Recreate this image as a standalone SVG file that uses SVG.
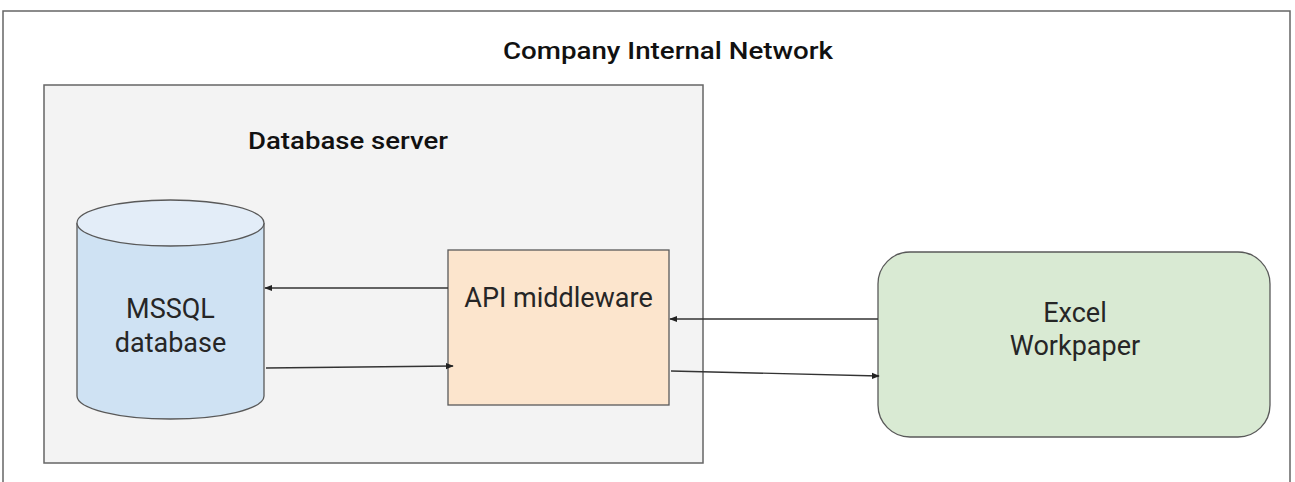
<svg xmlns="http://www.w3.org/2000/svg" width="1295" height="482" viewBox="0 0 1295 482">
<defs>
<style>
.lbl{font-family:Roboto,"Liberation Sans",sans-serif;font-size:27px;fill:#262626;text-anchor:middle}
.ttl{font-family:Roboto,"Liberation Sans",sans-serif;font-size:24.5px;font-weight:500;fill:#111;text-anchor:middle}
.edge{stroke:#333;stroke-width:1.3;fill:none;marker-end:url(#ah)}
.box{stroke:#595959;stroke-width:1.3}
</style>
<marker id="ah" viewBox="0 0 10 10" refX="9" refY="5" markerWidth="8" markerHeight="8" markerUnits="userSpaceOnUse" orient="auto">
<path d="M0,1 L10,5 L0,9 z" fill="#222"/>
</marker>
</defs>
<rect width="1295" height="482" fill="#fff"/>
<g id="network">
<path d="M3,482 V11 H1290 V482" fill="#fff" stroke="#666" stroke-width="1.5"/>
<text class="ttl" x="668" y="59" textLength="330" lengthAdjust="spacingAndGlyphs">Company Internal Network</text>
</g>
<g id="dbserver">
<rect x="44" y="85" width="659" height="378" fill="#f3f3f3" stroke="#666" stroke-width="1.5"/>
<text class="ttl" x="348" y="149" textLength="200" lengthAdjust="spacingAndGlyphs">Database server</text>
</g>
<g id="mssql">
<path d="M77,223 V396 A93.5,23 0 0 0 264,396 V223" fill="#cfe2f3" class="box"/>
<ellipse cx="170.5" cy="223" rx="93.5" ry="23" fill="#e3edf8" class="box"/>
<text class="lbl" x="170.5" y="318">MSSQL</text>
<text class="lbl" x="170.5" y="352">database</text>
</g>
<g id="api">
<rect x="448" y="250" width="221" height="155" fill="#fce5cd" class="box"/>
<text class="lbl" x="558.5" y="307">API middleware</text>
</g>
<g id="excel">
<rect x="878" y="252" width="392" height="185" rx="32" ry="32" fill="#d9ead3" class="box"/>
<text class="lbl" x="1075" y="322">Excel</text>
<text class="lbl" x="1075" y="355">Workpaper</text>
</g>
<g id="connectors">
<path class="edge" d="M448,288 H265"/>
<path class="edge" d="M266,368 L453,366"/>
<path class="edge" d="M878,319 H670"/>
<path class="edge" d="M671,371 L879,376"/>
</g>
</svg>
